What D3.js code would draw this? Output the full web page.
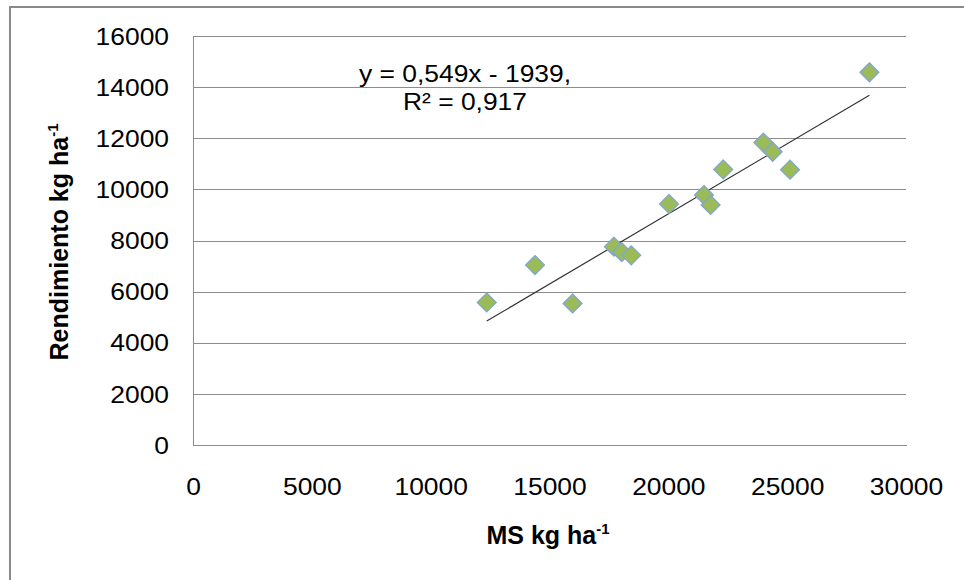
<!DOCTYPE html>
<html>
<head>
<meta charset="utf-8">
<script src="https://cdn.jsdelivr.net/npm/d3@7"></script>
<style>
  html, body { margin: 0; padding: 0; background: #fff; }
  svg { display: block; font-family: "Liberation Sans", Arial, sans-serif; }
</style>
</head>
<body>
<svg id="chart" width="964" height="580"></svg>
<script>
// MS (x) vs Rendimiento (y)
const msValues    = [12360, 14390, 15970, 17710, 18040, 18440, 20030, 21500, 21780, 22310, 24000, 24390, 25120, 28460];
const yieldValues = [ 5575,  7040,  5535,  7760,  7540,  7420,  9430,  9780,  9390, 10780, 11830, 11470, 10770, 14580];

const xTicks = [0, 5000, 10000, 15000, 20000, 25000, 30000];
const yTicks = [0, 2000, 4000, 6000, 8000, 10000, 12000, 14000, 16000];

// trendline as printed on the chart
const slope = 0.549;
const intercept = -1939;
const eqLines = ["y = 0,549x - 1939,", "R\u00b2 = 0,917"];

(function () {
    const svg = d3.select("#chart");

    // the original picture is a bit wider than tall, so text gets stretched sideways
    const SX = 1.1;

    // plot area in pixels
    const P = { left: 193, right: 906, top: 36, bottom: 445 };

    const x = d3.scaleLinear().domain([0, 30000]).range([P.left, P.right]);
    const y = d3.scaleLinear().domain([0, 16000]).range([P.bottom, P.top]);

    function stretchX(sel) {
        sel.attr("transform", function () {
            const ax = +this.getAttribute("x") || 0;
            return `translate(${ax},0) scale(${SX},1) translate(${-ax},0)`;
        });
    }

    // outer chart frame (runs off the right and bottom edges)
    svg.append("rect")
        .attr("x", 10).attr("y", 7)
        .attr("width", 1000).attr("height", 600)
        .attr("fill", "none")
        .attr("stroke", "#8a8a8a")
        .attr("stroke-width", 2);

    // ----- Y axis with gridlines -----
    const yAxis = svg.append("g")
        .attr("transform", `translate(${P.left},0)`)
        .call(d3.axisLeft(y).tickValues(yTicks).tickSize(-(P.right - P.left)).tickPadding(24).tickFormat(d3.format("d")));
    yAxis.select(".domain").remove();
    yAxis.selectAll(".tick line")
        .attr("stroke", "#8c8c8c")
        .attr("shape-rendering", "crispEdges");
    yAxis.selectAll(".tick text")
        .attr("font-size", 24)
        .attr("font-family", "Liberation Sans, Arial, sans-serif")
        .attr("fill", "#000")
        .attr("dy", "0.34em")
        .call(stretchX);

    // ----- X axis -----
    const xAxis = svg.append("g")
        .attr("transform", `translate(0,${P.bottom})`)
        .call(d3.axisBottom(x).tickValues(xTicks).tickSize(0).tickPadding(33).tickFormat(d3.format("d")));
    xAxis.select(".domain")
        .attr("stroke", "#8c8c8c")
        .attr("shape-rendering", "crispEdges");
    xAxis.selectAll(".tick text")
        .attr("font-size", 24)
        .attr("font-family", "Liberation Sans, Arial, sans-serif")
        .attr("fill", "#000")
        .call(stretchX);

    // left axis line
    svg.append("line")
        .attr("x1", P.left).attr("x2", P.left)
        .attr("y1", P.top).attr("y2", P.bottom)
        .attr("stroke", "#8c8c8c")
        .attr("shape-rendering", "crispEdges");

    // ----- trendline -----
    const xExt = d3.extent(msValues);
    svg.append("line")
        .attr("x1", x(xExt[0])).attr("y1", y(slope * xExt[0] + intercept))
        .attr("x2", x(xExt[1])).attr("y2", y(slope * xExt[1] + intercept))
        .attr("stroke", "#333")
        .attr("stroke-width", 1.2);

    // ----- points (diamonds) -----
    const diamond = "M0,-9.5 L9.5,0 L0,9.5 L-9.5,0 Z";
    svg.append("g").selectAll("path")
        .data(msValues.map((v, i) => [v, yieldValues[i]]))
        .join("path")
        .attr("d", diamond)
        .attr("transform", d => `translate(${x(d[0])},${y(d[1])})`)
        .attr("fill", "#9bbb59")
        .attr("stroke", "#7ea6d4")
        .attr("stroke-width", 1.2);

    // ----- equation label -----
    svg.append("g").selectAll("text")
        .data(eqLines)
        .join("text")
        .attr("x", (d, i) => i === 0 ? 359 : 403)
        .attr("y", (d, i) => 82 + i * 28)
        .attr("font-size", 24)
        .attr("fill", "#000")
        .text(d => d)
        .call(stretchX);

    // ----- axis titles -----
    const xt = svg.append("text")
        .attr("x", 548).attr("y", 544)
        .attr("text-anchor", "middle")
        .attr("font-size", 25)
        .attr("font-weight", "bold");
    xt.append("tspan").text("MS kg ha");
    xt.append("tspan").attr("font-size", 15).attr("dy", -10).text("-1");

    const yt = svg.append("text")
        .attr("transform", "translate(68,242) rotate(-90)")
        .attr("text-anchor", "middle")
        .attr("font-size", 25)
        .attr("font-weight", "bold");
    yt.append("tspan").text("Rendimiento kg ha");
    yt.append("tspan").attr("font-size", 15).attr("dy", -10).text("-1");
})();
</script>
</body>
</html>
